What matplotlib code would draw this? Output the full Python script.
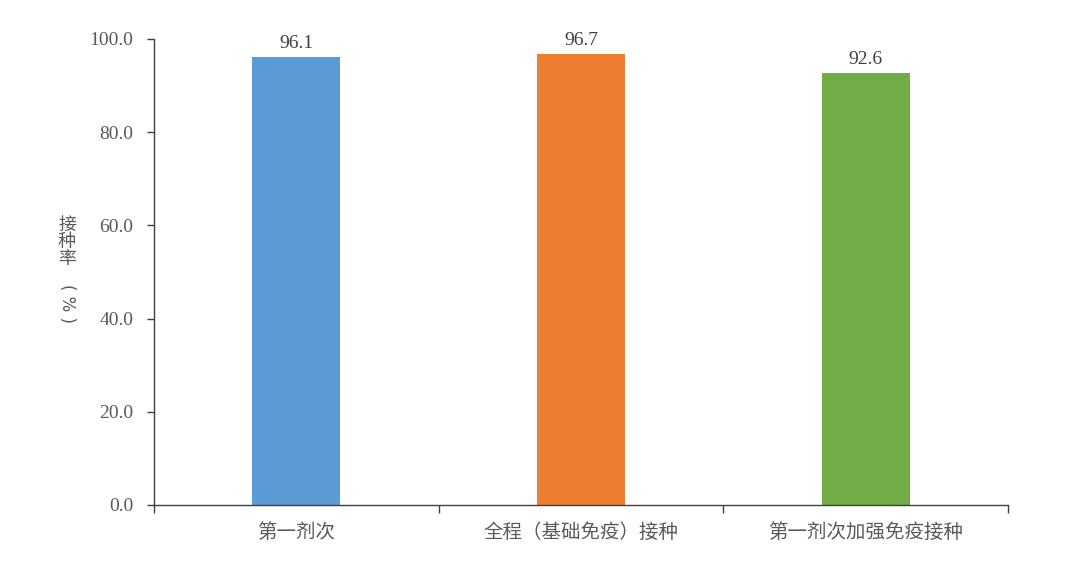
import numpy as np
import matplotlib.pyplot as plt
from matplotlib.ticker import FixedLocator

categories = ['第一剂次', '全程（基础免疫）接种', '第一剂次加强免疫接种']
values = [96.1, 96.7, 92.6]
colors = ['#5B9BD5', '#ED7D31', '#70AD47']
y_ticks = [0, 20, 40, 60, 80, 100]
y_label_top = '接种率'
y_label_unit = '( % )'

cjk = ['Noto Sans CJK SC', 'DejaVu Sans']
serif = ['Liberation Serif', 'DejaVu Serif']
grey = '#595959'

fig = plt.figure(figsize=(10.8, 5.87), dpi=100)
ax = fig.add_axes([0.1426, 0.1397, 0.7907, 0.7939])

x = np.arange(len(categories))
ax.bar(x, values, width=0.31, color=colors)

ax.set_xlim(-0.5, len(categories) - 0.5)
ax.set_ylim(0, 100)

for s in ['top', 'right']:
    ax.spines[s].set_visible(False)
for s in ['left', 'bottom']:
    ax.spines[s].set_color('#404040')
    ax.spines[s].set_linewidth(1.0)

ax.set_yticks(y_ticks)
ax.set_yticklabels(['%.1f' % v for v in y_ticks], fontfamily=serif,
                   fontsize=14, color=grey)
ax.tick_params(axis='y', direction='out', length=5, width=1, color='#404040', pad=10)

ax.set_xticks(x)
ax.set_xticklabels(categories, fontfamily=cjk, fontsize=14, color=grey)
ax.tick_params(axis='x', which='major', length=0, pad=12)
ax.xaxis.set_minor_locator(FixedLocator(np.arange(len(categories) + 1) - 0.5))
ax.tick_params(axis='x', which='minor', direction='out', length=6, width=1, color='#404040')

for xi, v in zip(x, values):
    ax.annotate('%.1f' % v, (xi, v), xytext=(0, 4), textcoords='offset points',
                ha='center', va='bottom', fontfamily=serif, fontsize=14, color='#404040')

# vertical axis title: stacked characters, then the unit turned sideways
fig.text(67 / 1080, 1 - 242 / 587, '\n'.join(y_label_top), ha='center', va='center',
         fontfamily=cjk, fontsize=13, color=grey, linespacing=0.95)
fig.text(67 / 1080, 1 - 303 / 587, y_label_unit, ha='center', va='center',
         rotation=-90, fontfamily=['DejaVu Sans'], fontsize=12, color=grey)

fig.savefig('out.png', dpi=100)
